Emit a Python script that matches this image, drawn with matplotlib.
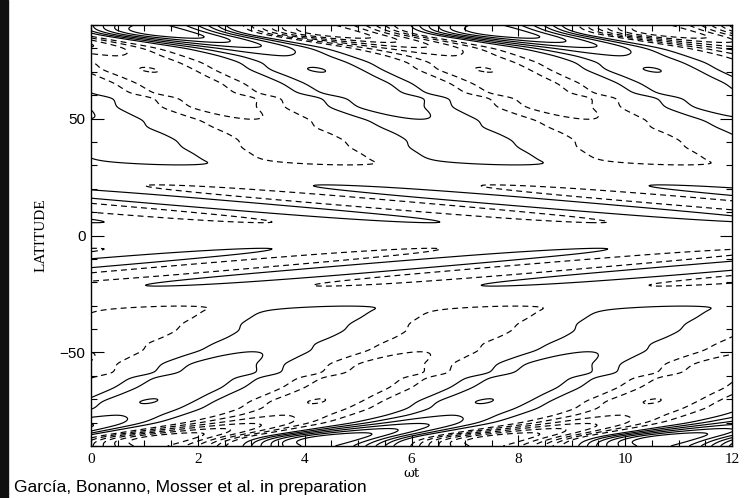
import numpy as np
import matplotlib
matplotlib.use("Agg")
import matplotlib.pyplot as plt
from matplotlib.patches import Rectangle

# latitude profile of the dynamo wave (northern hemisphere, field is antisymmetric)
lat_nodes = [0, 3, 5.5, 8, 11, 14, 17, 20, 21.6, 23, 26, 29, 30.3, 31.3, 33, 35,
             37.8, 40.7, 43.5, 46.3, 49.2, 51.3, 54.8, 59, 60.5, 65, 68, 71, 74,
             77, 80, 83, 86, 88, 90]
amp_nodes = [0.0, 0.55, 1.0, 1.5, 1.8, 1.9, 1.85, 1.4, 1.0, 0.7, 0.4, 0.5, 0.95,
             1.7, 1.95, 1.95, 1.9, 1.8, 1.75, 1.72, 1.95, 2.15, 2.45, 2.7, 2.75,
             2.85, 2.9, 3.07, 2.85, 2.95, 3.8, 5.2, 7.0, 7.0, 6.2]
phase_nodes = [21.74, 20.2, 18.9, 17.64, 16.11, 14.57, 13.04, 11.5, 10.68, 9.96,
               9.1, 8.2, 8.0, 7.5, 7.3, 7.17, 6.96, 6.9, 6.67, 6.37, 6.23, 5.98,
               5.61, 5.51, 5.09, 4.8, 4.5, 4.2, 4.0, 3.6, 3.1, 2.3, 1.5, 1.2, 1.1]

contour_levels = [-7, -6, -5, -4, -3, -2, -1, 1, 2, 3, 4, 5, 6, 7]
xticks = [0, 2, 4, 6, 8, 10, 12]
yticks = [-50, 0, 50]

plt.rcParams['contour.negative_linestyle'] = 'dashed'
plt.rcParams['lines.dashed_pattern'] = [5.0, 3.5]

# build the field on a fine grid
wt = np.linspace(0, 12, 961)
half = np.linspace(0, 90, 361)
amp = np.interp(half, lat_nodes, amp_nodes)
phase = np.interp(half, lat_nodes, phase_nodes)

# light smoothing along latitude
k = np.exp(-0.5 * (np.arange(-8, 9) / 3.0) ** 2)
k /= k.sum()
amp = np.convolve(np.pad(amp, 8, mode='edge'), k, mode='valid')
phase = np.convolve(np.pad(phase, 8, mode='edge'), k, mode='valid')
amp[0] = 0.0

north = amp[:, None] * np.cos(wt[None, :] - phase[:, None])
lat = np.concatenate([-half[:0:-1], half])
field = np.vstack([-north[:0:-1], north])

fig = plt.figure(figsize=(7.5, 4.98), dpi=100)
fig.patch.set_facecolor('white')
fig.add_artist(Rectangle((0, 0), 8 / 750, 1, transform=fig.transFigure,
                         color='#101010', zorder=0))

ax = fig.add_axes([91 / 750, 52 / 498, 641 / 750, 421 / 498])
ax.contour(wt, lat, field, levels=contour_levels, colors='k', linewidths=0.85)

ax.set_xlim(0, 12)
ax.set_ylim(-90, 90)
ax.set_xticks(xticks)
ax.set_xticks(np.arange(0, 12.01, 0.5), minor=True)
ax.set_yticks(yticks)
ax.set_yticks(np.arange(-90, 91, 10), minor=True)
ax.tick_params(which='both', direction='in', top=True, right=True, width=0.8)
ax.tick_params(axis='x', which='major', length=8, pad=5)
ax.tick_params(axis='x', which='minor', length=4)
ax.tick_params(axis='y', which='major', length=9, pad=4)
ax.tick_params(axis='y', which='minor', length=4.5)
for s in ax.spines.values():
    s.set_linewidth(1.0)

ax.set_xticklabels([str(v) for v in xticks], family='Liberation Serif', fontsize=11)
ax.set_yticklabels(['\u221250', '0', '50'], family='Liberation Sans', fontsize=11)
ax.set_xlabel('\u03c9t', family='DejaVu Serif', fontsize=9.5, labelpad=1)
ax.set_ylabel('LATITUDE', family='Liberation Serif', fontsize=11, labelpad=9)

fig.text(14 / 750, 6 / 498, 'García, Bonanno, Mosser et al. in preparation',
         family='Liberation Sans', fontsize=12.5)

fig.savefig('out.png', dpi=100)
